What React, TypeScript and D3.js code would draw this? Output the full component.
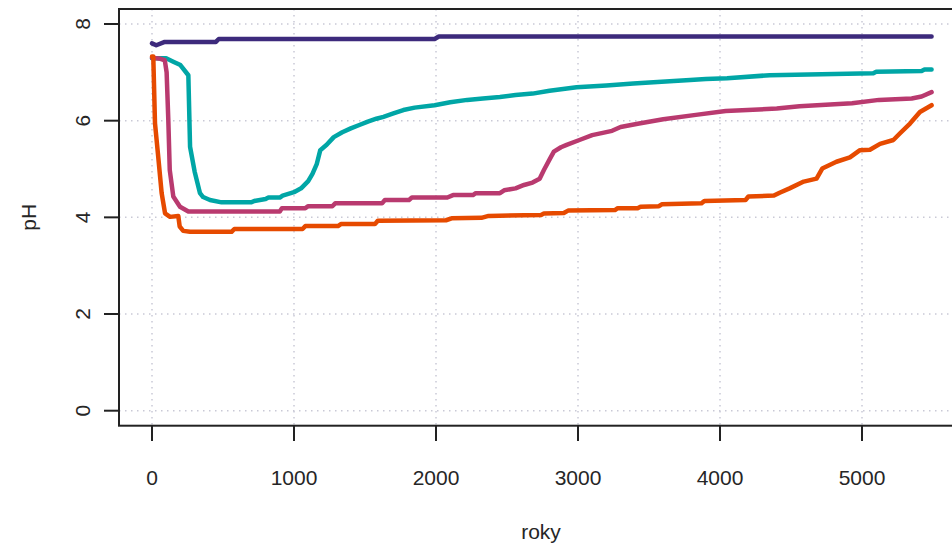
import React from "react";
import * as d3 from "d3";

const xTicks = [0, 1000, 2000, 3000, 4000, 5000];
const yTicks = [0, 2, 4, 6, 8];

const purpleX = [0, 30, 90, 450, 470, 1990, 2020, 5490];
const purpleY = [7.6, 7.56, 7.63, 7.63, 7.69, 7.69, 7.74, 7.74];

const tealX = [0, 100, 150, 200, 256, 268, 300, 338, 360, 408, 490, 700, 720, 800, 820, 900, 920, 1000, 1050, 1100, 1130, 1160, 1185, 1230, 1280, 1340, 1400, 1460, 1520, 1580, 1630, 1700, 1770, 1850, 1990, 2100, 2220, 2330, 2450, 2560, 2680, 2800, 2990, 3200, 3390, 3560, 3790, 3900, 4050, 4350, 5080, 5100, 5420, 5440, 5490];
const tealY = [7.29, 7.29, 7.22, 7.15, 6.94, 5.46, 4.95, 4.5, 4.42, 4.36, 4.31, 4.31, 4.34, 4.38, 4.41, 4.41, 4.45, 4.52, 4.6, 4.75, 4.9, 5.1, 5.39, 5.5, 5.66, 5.76, 5.84, 5.91, 5.98, 6.04, 6.08, 6.15, 6.22, 6.27, 6.32, 6.38, 6.43, 6.46, 6.49, 6.53, 6.56, 6.62, 6.69, 6.73, 6.77, 6.8, 6.84, 6.86, 6.88, 6.94, 6.98, 7.01, 7.03, 7.06, 7.06];

const magentaX = [0, 60, 90, 103, 115, 125, 150, 197, 256, 900, 915, 1080, 1100, 1270, 1290, 1620, 1640, 1810, 1830, 2080, 2120, 2260, 2280, 2450, 2480, 2560, 2620, 2680, 2730, 2760, 2800, 2830, 2880, 2920, 3010, 3100, 3240, 3300, 3430, 3600, 3830, 4040, 4400, 4560, 4930, 5120, 5350, 5420, 5490];
const magentaY = [7.3, 7.28, 7.25, 7.0, 6.0, 4.98, 4.43, 4.22, 4.12, 4.12, 4.19, 4.19, 4.23, 4.23, 4.29, 4.29, 4.36, 4.36, 4.41, 4.41, 4.46, 4.46, 4.5, 4.5, 4.56, 4.6, 4.67, 4.72, 4.8, 4.98, 5.2, 5.36, 5.45, 5.5, 5.6, 5.7, 5.79, 5.87, 5.94, 6.03, 6.12, 6.2, 6.25, 6.3, 6.36, 6.43, 6.46, 6.5, 6.59];

const orangeX = [0, 9, 21, 44, 68, 92, 127, 185, 195, 220, 268, 560, 580, 1060, 1080, 1310, 1330, 1570, 1590, 2070, 2110, 2320, 2370, 2740, 2760, 2900, 2930, 3260, 3280, 3420, 3440, 3570, 3590, 3870, 3890, 4180, 4200, 4380, 4420, 4490, 4590, 4680, 4720, 4820, 4915, 4986, 5056, 5127, 5221, 5268, 5338, 5408, 5490];
const orangeY = [7.33, 7.33, 5.95, 5.25, 4.5, 4.08, 4.01, 4.03, 3.81, 3.72, 3.7, 3.7, 3.76, 3.76, 3.82, 3.82, 3.86, 3.86, 3.93, 3.94, 3.98, 3.99, 4.03, 4.05, 4.08, 4.09, 4.14, 4.15, 4.19, 4.19, 4.22, 4.23, 4.27, 4.29, 4.34, 4.36, 4.43, 4.45, 4.51, 4.6, 4.74, 4.8, 5.01, 5.15, 5.24, 5.39, 5.4, 5.52, 5.6, 5.74, 5.94, 6.18, 6.32];

const seriesColors = ["#3d2a7c", "#00a6a6", "#b93a6f", "#e64a00"];

export default function App() {
  const W = 952, H = 547;
  const x = d3.scaleLinear().domain([0, 5000]).range([152, 862]);
  const y = d3.scaleLinear().domain([0, 8]).range([410.7, 24]);
  const boxL = 119, boxT = 9, boxB = 425.7, boxR = 1010;

  const series = [
    [purpleX, purpleY],
    [tealX, tealY],
    [magentaX, magentaY],
    [orangeX, orangeY],
  ];
  const line = d3.line<[number, number]>().x(d => x(d[0])).y(d => y(d[1]));
  const font = "'Liberation Sans', Arial, Helvetica, sans-serif";
  const gridCol = "#c9c9d6";

  return (
    <svg width={W} height={H} style={{ position: "absolute", left: 0, top: 0, background: "#fff" }} fontFamily={font}>
      {xTicks.map(t => (
        <line key={"gx" + t} x1={x(t)} x2={x(t)} y1={boxT} y2={boxB} stroke={gridCol} strokeWidth={1.5} strokeDasharray="1.5 4.5" />
      ))}
      {yTicks.map(t => (
        <line key={"gy" + t} x1={boxL} x2={W} y1={y(t)} y2={y(t)} stroke={gridCol} strokeWidth={1.5} strokeDasharray="1.5 4.5" />
      ))}
      {series.map(([xs, ys], i) => (
        <path key={i} d={line(xs.map((v, j) => [v, ys[j]] as [number, number])) || ""} fill="none" stroke={seriesColors[i]} strokeWidth={4.5} strokeLinejoin="round" strokeLinecap="round" />
      ))}
      <rect x={boxL} y={boxT} width={boxR - boxL} height={boxB - boxT} fill="none" stroke="#222" strokeWidth={2} />
      {xTicks.map(t => (
        <g key={"xt" + t}>
          <line x1={x(t)} x2={x(t)} y1={boxB} y2={441} stroke="#222" strokeWidth={2} />
          <text x={x(t)} y={485} textAnchor="middle" fontSize={21} fill="#262626">{t}</text>
        </g>
      ))}
      {yTicks.map(t => (
        <g key={"yt" + t}>
          <line x1={104} x2={boxL} y1={y(t)} y2={y(t)} stroke="#222" strokeWidth={2} />
          <text transform={`translate(90,${y(t)}) rotate(-90)`} textAnchor="middle" fontSize={21} fill="#262626">{t}</text>
        </g>
      ))}
      <text x={541} y={539} textAnchor="middle" fontSize={21} fill="#262626">roky</text>
      <text transform={`translate(36,${(boxT + boxB) / 2}) rotate(-90)`} textAnchor="middle" fontSize={21} fill="#262626">pH</text>
    </svg>
  );
}
